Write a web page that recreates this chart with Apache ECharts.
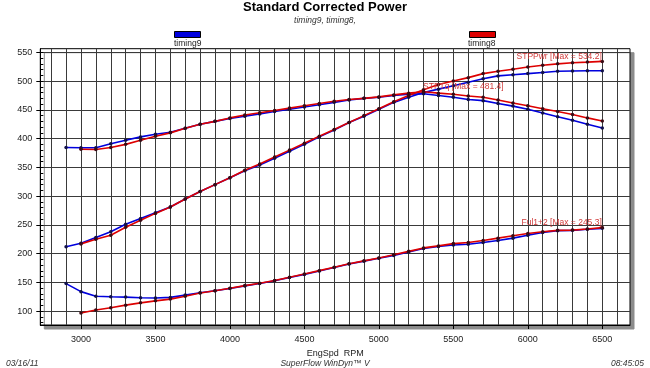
<!DOCTYPE html>
<html>
<head>
<meta charset="utf-8">
<script src="https://cdn.jsdelivr.net/npm/echarts@6/dist/echarts.min.js"></script>
<style>
html,body{margin:0;padding:0;background:#fff;}
#chart{width:650px;height:368px;}
</style>
</head>
<body>
<div id="chart"></div>
<script>
// ---- data ----
const rpm9 = [2900,3000,3100,3200,3300,3400,3500,3600,3700,3800,3900,4000,4100,4200,4300,4400,4500,4600,4700,4800,4900,5000,5100,5200,5300,5400,5500,5600,5700,5800,5900,6000,6100,6200,6300,6400,6500];
const rpm8 = [3000,3100,3200,3300,3400,3500,3600,3700,3800,3900,4000,4100,4200,4300,4400,4500,4600,4700,4800,4900,5000,5100,5200,5300,5400,5500,5600,5700,5800,5900,6000,6100,6200,6300,6400,6500];

const pwr9 = [212,218,228,238,251,261,271,281,295,308,320,332,344,354,366,378,390,403,415,428,439,451,463,472,480,486,492,498,504,509,511,513,515,517,517.5,518,518];
const tq9  = [384.5,384,384,391,397,403,407.5,411,418,425,430,435,439,443,447,451,455,459,463,467,470,472,475,477,478,475,472,468,466,461,456.5,451,444.5,438,432,425,418.5];
const ful9 = [148,134,126,125,124.5,123.5,123,124,128,132,135.5,139.5,144,148,153,158.5,164,170,176,182,187,192,197,203,209,212.5,215,216.5,219.5,223,227,232,237,240,240.5,242.5,244];

const pwr8 = [217,225,232,246,258,270,281,295,308,320,332,345,356,368,380,392,404,416,428,440,452,464,475,485,494,500,506,513,517,520.5,524.5,527.5,530,532,533,534.2];
const tq8  = [381.5,381,384.5,390,397,404,410,418,425,430,436,441,445,449,453,457,461,465,468,470,472.5,476,479,481.4,479,477,474,472,467,462,457,452,447,442,436,430.5];
const ful8 = [97,102,106,110.5,114.5,118,121,126,131.5,135.5,140,144.5,148.5,153.5,159,164.5,170.5,176.5,182.5,187.5,192.5,198,204,210,213.5,217.5,219.5,223,227,231,235,238,240.5,241,243,245.3];

const xLabelTicks = [3000,3500,4000,4500,5000,5500,6000,6500];
const xGridTicks = [2800,2900,3000,3100,3200,3300,3400,3500,3600,3700,3800,3900,4000,4100,4200,4300,4400,4500,4600,4700,4800,4900,5000,5100,5200,5300,5400,5500,5600,5700,5800,5900,6000,6100,6200,6300,6400,6500,6600];
const yLabelTicks = [100,150,200,250,300,350,400,450,500,550];
const yMinorTicks = [80,90,100,110,120,130,140,150,160,170,180,190,200,210,220,230,240,250,260,270,280,290,300,310,320,330,340,350,360,370,380,390,400,410,420,430,440,450,460,470,480,490,500,510,520,530,540,550];

const seriesNames = ['timing9','timing8'];
const annPwr = 'STPPwr [Max = 534.2]';
const annTq  = 'STPTq [Max = 481.4]';
const annFul = 'Ful1+2 [Max = 245.3]';

// ---- chart ----
const FONT = '"Liberation Sans", Arial, sans-serif';
const BLUE = '#0000dd';
const RED = '#dd0000';
const X_MIN = 2727, X_MAX = 6686, Y_MIN = 76, Y_MAX = 556.3;

function pairs(xs, ys){ return xs.map((x,i)=>[x, ys[i]]); }

function lineSeries(name, xs, ys, color, dot, extra){
  return Object.assign({
    name: name, type: 'line', xAxisIndex: 0, yAxisIndex: 0,
    data: pairs(xs, ys),
    symbol: 'circle', symbolSize: 3.5, showSymbol: true,
    lineStyle: {color: color, width: 1.6},
    itemStyle: {color: dot, borderWidth: 0},
    animation: false, silent: true, z: 3
  }, extra || {});
}

function ann(text, x, y, align){
  return {
    coord: [x, y], symbol: 'circle', symbolSize: 1,
    itemStyle: {color: 'rgba(0,0,0,0)'},
    label: {show: true, formatter: text, position: [0, 0], align: align, verticalAlign: 'bottom',
            color: '#d03a3a', fontSize: 8.5, fontFamily: FONT}
  };
}

const chart = echarts.init(document.getElementById('chart'), null, {renderer: 'canvas'});
chart.setOption({
  backgroundColor: '#fff',
  animation: false,
  title: {
    text: 'Standard Corrected Power', subtext: 'timing9, timing8,',
    left: 'center', top: 1, padding: 0, itemGap: 2,
    textStyle: {fontSize: 13, fontWeight: 'bold', fontFamily: FONT, color: '#000'},
    subtextStyle: {fontSize: 8.5, fontStyle: 'italic', fontFamily: FONT, color: '#333'}
  },
  grid: {
    left: 40.3, right: 20, top: 48.7, bottom: 43,
    show: true, backgroundColor: '#fff', borderColor: '#000', borderWidth: 1,
    shadowColor: '#8c8c8c', shadowOffsetX: 4, shadowOffsetY: 4, shadowBlur: 0
  },
  xAxis: [{
    type: 'value', min: X_MIN, max: X_MAX, position: 'bottom',
    name: 'EngSpd  RPM', nameLocation: 'middle', nameGap: 22,
    nameTextStyle: {fontSize: 9, fontFamily: FONT, color: '#222'},
    axisLine: {show: true, lineStyle: {color: '#000', width: 1}},
    axisTick: {show: false, customValues: xGridTicks},
    splitLine: {show: true, lineStyle: {color: '#3a3a3a', width: 1}},
    axisLabel: {show: true, customValues: xLabelTicks, formatter: v => String(v),
                fontSize: 9, fontFamily: FONT, color: '#222', margin: 10}
  }, {
    type: 'value', min: X_MIN, max: X_MAX, position: 'bottom',
    axisLine: {show: false},
    axisTick: {show: true, inside: false, length: 4, customValues: xLabelTicks, lineStyle: {color: '#000'}},
    splitLine: {show: false},
    axisLabel: {show: false}
  }],
  yAxis: [{
    type: 'value', min: Y_MIN, max: Y_MAX, position: 'left',
    axisLine: {show: true, lineStyle: {color: '#000', width: 1}},
    axisTick: {show: true, inside: false, length: 4, customValues: yLabelTicks, lineStyle: {color: '#000'}},
    splitLine: {show: true, lineStyle: {color: '#3a3a3a', width: 1.2}},
    axisLabel: {show: true, customValues: yLabelTicks, formatter: v => String(v),
                fontSize: 9, fontFamily: FONT, color: '#222', margin: 8}
  }, {
    type: 'value', min: Y_MIN, max: Y_MAX, position: 'left',
    axisLine: {show: false},
    axisTick: {show: true, inside: true, length: 3, customValues: yMinorTicks, lineStyle: {color: '#000'}},
    splitLine: {show: false},
    axisLabel: {show: false}
  }],
  series: [
    lineSeries(seriesNames[0] + ' STPPwr', rpm9, pwr9, BLUE, '#10104a'),
    lineSeries(seriesNames[0] + ' STPTq', rpm9, tq9, BLUE, '#10104a'),
    lineSeries(seriesNames[0] + ' Ful1+2', rpm9, ful9, BLUE, '#10104a'),
    lineSeries(seriesNames[1] + ' STPPwr', rpm8, pwr8, RED, '#3a0a14', {
      markPoint: {silent: true, animation: false, data: [ann(annPwr, 6500, 534.2, 'right')]}
    }),
    lineSeries(seriesNames[1] + ' STPTq', rpm8, tq8, RED, '#3a0a14', {
      markPoint: {silent: true, animation: false, data: [ann(annTq, 5300, 481.4, 'left')]}
    }),
    lineSeries(seriesNames[1] + ' Ful1+2', rpm8, ful8, RED, '#3a0a14', {
      markPoint: {silent: true, animation: false, data: [ann(annFul, 6500, 245.3, 'right')]}
    })
  ],
  graphic: [
    {type: 'rect', left: 174, top: 31, shape: {width: 26, height: 6}, style: {fill: BLUE, stroke: '#000', lineWidth: 1}},
    {type: 'text', left: 174, top: 39, style: {text: seriesNames[0], font: '8.5px ' + FONT, fill: '#222'}},
    {type: 'rect', left: 469, top: 31, shape: {width: 26, height: 6}, style: {fill: RED, stroke: '#000', lineWidth: 1}},
    {type: 'text', left: 468, top: 39, style: {text: seriesNames[1], font: '8.5px ' + FONT, fill: '#222'}},
    {type: 'text', left: 6, top: 359, style: {text: '03/16/11', font: 'italic 8.5px ' + FONT, fill: '#333'}},
    {type: 'text', left: 'center', top: 359, style: {text: 'SuperFlow WinDyn™ V', font: 'italic 8.5px ' + FONT, fill: '#333'}},
    {type: 'text', right: 6, top: 359, style: {text: '08:45:05', font: 'italic 8.5px ' + FONT, fill: '#333'}}
  ]
});
</script>
</body>
</html>
